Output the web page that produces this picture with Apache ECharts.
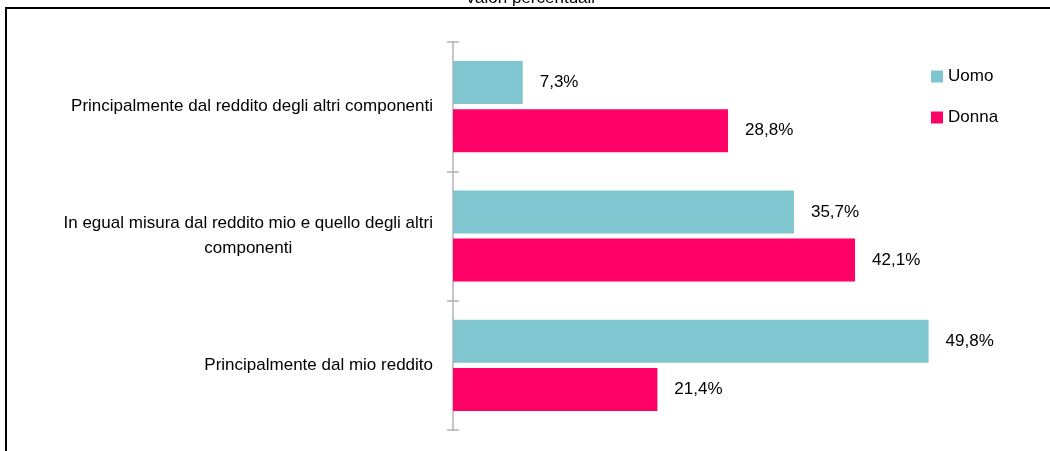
<!DOCTYPE html>
<html>
<head>
<meta charset="utf-8">
<title>Valori percentuali</title>
<script src="https://cdn.jsdelivr.net/npm/echarts@6/dist/echarts.min.js"></script>
<style>
  html, body { margin: 0; padding: 0; background: #fff; }
  #chart { width: 1050px; height: 451px; }
</style>
</head>
<body>
<div id="chart"></div>
<script>
// categorie (dall'alto in basso)
var categories = [
    'Principalmente dal reddito degli altri componenti',
    'In egual misura dal reddito mio e quello degli altri\ncomponenti',
    'Principalmente dal mio reddito'
];
var seriesNames = ['Uomo', 'Donna'];
var uomo = [7.3, 35.7, 49.8];
var donna = [28.8, 42.1, 21.4];

var FONT = "'Liberation Sans Narrow', 'Arial Narrow', 'Liberation Sans', Arial, sans-serif";
var FS = 17;
var colUomo = '#7fc6d0';
var colDonna = '#ff0066';

function fmtPct(v) {
    return v.toFixed(1).replace('.', ',') + '%';
}

var myChart = echarts.init(document.getElementById('chart'));

var labelStyle = {
    show: true,
    position: 'right',
    distance: 17,
    color: '#000',
    fontFamily: FONT,
    fontSize: FS,
    formatter: function (p) { return fmtPct(p.value); }
};

var option = {
    animation: false,
    graphic: [
        {   // cornice
            type: 'rect',
            shape: { x: 6, y: 8, width: 1200, height: 600 },
            style: { fill: 'none', stroke: '#000', lineWidth: 2 },
            silent: true
        },
        {   // titolo tagliato in alto
            type: 'text',
            x: 465,
            y: 7,
            style: {
                text: 'Valori percentuali',
                font: FS + 'px ' + FONT,
                fill: '#000',
                verticalAlign: 'bottom'
            },
            silent: true
        }
    ],
    legend: {
        data: seriesNames,
        orient: 'vertical',
        left: 926,
        top: 63,
        icon: 'rect',
        itemWidth: 12,
        itemHeight: 12,
        itemGap: 24,
        textStyle: { fontFamily: FONT, fontSize: FS, color: '#000', padding: [0, 0, 0, 0] }
    },
    grid: {
        left: 453,
        right: 24,
        top: 42,
        bottom: 21,
        containLabel: false,
        outerBoundsMode: 'none'
    },
    xAxis: {
        type: 'value',
        min: 0,
        max: 60,
        show: false
    },
    yAxis: [
        {
            type: 'category',
            data: categories,
            inverse: true,
            axisLine: { lineStyle: { color: '#b3b3b3', width: 1.5 } },
            axisTick: { show: true, length: 6, lineStyle: { color: '#b3b3b3', width: 1.5 } },
            axisLabel: {
                margin: 20,
                color: '#000',
                fontFamily: FONT,
                fontSize: FS,
                lineHeight: 25,
                formatter: function (v) {
                    return v.split('\n').map(function (s) { return '{c|' + s + '}'; }).join('\n');
                },
                rich: {
                    c: { align: 'center', fontFamily: FONT, fontSize: FS, lineHeight: 25, color: '#000' }
                }
            }
        },
        {   // tacche interne
            type: 'category',
            data: categories,
            inverse: true,
            position: 'left',
            axisLine: { show: false },
            axisTick: { show: true, inside: true, length: 6, lineStyle: { color: '#b3b3b3', width: 1.5 } },
            axisLabel: { show: false }
        }
    ],
    series: [
        {
            name: 'Uomo',
            type: 'bar',
            data: uomo,
            barWidth: 43,
            barGap: '12%',
            itemStyle: { color: colUomo },
            label: labelStyle
        },
        {
            name: 'Donna',
            type: 'bar',
            data: donna,
            barWidth: 43,
            barGap: '12%',
            itemStyle: { color: colDonna },
            label: labelStyle
        }
    ]
};
myChart.setOption(option);
</script>
</body>
</html>
